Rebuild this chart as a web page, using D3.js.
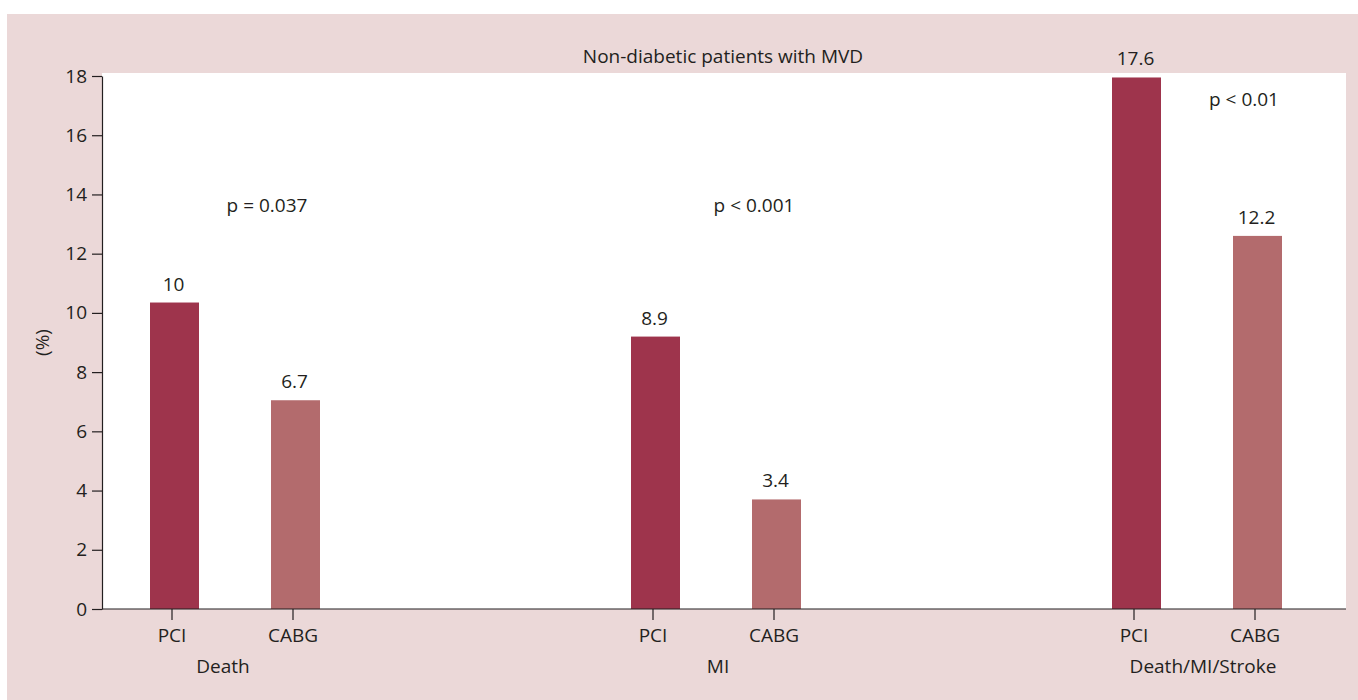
<!DOCTYPE html>
<html>
<head>
<meta charset="utf-8">
<script src="https://cdn.jsdelivr.net/npm/d3@7"></script>
<style>
  body { margin: 0; background: #fff; }
  text { font-family: "Open Sans", "Noto Sans", sans-serif; fill: #231f20; }
</style>
</head>
<body>
<div id="chart"></div>
<script>
// dados
var grupos = ["Death", "MI", "Death/MI/Stroke"];
var tratamentos = ["PCI", "CABG"];
var alturaPCI = [10.35, 9.2, 17.95];   // altura desenhada das barras
var alturaCABG = [7.05, 3.7, 12.6];
var rotuloPCI = ["10", "8.9", "17.6"];  // numeros escritos em cima
var rotuloCABG = ["6.7", "3.4", "12.2"];
var pValores = ["p = 0.037", "p < 0.001", "p < 0.01"];
var yTicks = [0, 2, 4, 6, 8, 10, 12, 14, 16, 18];

var W = 1358, H = 700;
var margin = {top: 76, left: 102, right: 12, bottom: 91};
var w = W - margin.left - margin.right,
    h = H - margin.top - margin.bottom;
var fs = 19;

var svg = d3.select("#chart").append("svg")
    .attr("width", W).attr("height", H);

// fundo rosa + area branca
svg.append("rect").attr("x", 7).attr("y", 14)
    .attr("width", W - 7).attr("height", H - 14).attr("fill", "#ebd8d8");
svg.append("rect").attr("x", margin.left).attr("y", margin.top - 3)
    .attr("width", w).attr("height", h + 3).attr("fill", "#fff");

var g = svg.append("g")
    .attr("transform", "translate(" + margin.left + "," + margin.top + ")");

/*
 * As escalas
 */
var xGrupo = d3.scalePoint().domain(grupos).range([133, w - 149]);
var xTrat = d3.scalePoint().domain(tratamentos).range([-60.5, 60.5]);
var y = d3.scaleLinear().domain([0, 18]).range([h, 0]);
var cor = {PCI: "#9e344c", CABG: "#b36b6d"};
var barW = 49;

var dados = [];
grupos.forEach(function (gr, i) {
    dados.push({grupo: gr, trat: "PCI", value: alturaPCI[i], rotulo: rotuloPCI[i]});
    dados.push({grupo: gr, trat: "CABG", value: alturaCABG[i], rotulo: rotuloCABG[i]});
});

/*
 * As marcas
 */
g.selectAll("rect.bar").data(dados).enter().append("rect")
    .attr("class", "bar")
    .attr("x", d => xGrupo(d.grupo) + xTrat(d.trat) - barW / 2)
    .attr("width", barW)
    .attr("y", d => y(d.value))
    .attr("height", d => h - y(d.value))
    .attr("fill", d => cor[d.trat]);

g.selectAll("text.val").data(dados).enter().append("text")
    .attr("class", "val")
    .attr("x", d => xGrupo(d.grupo) + xTrat(d.trat) - 1)
    .attr("y", d => y(d.value) - 12)
    .attr("text-anchor", "middle")
    .attr("font-size", fs)
    .text(d => d.rotulo);

/*
 * Os eixos
 */
var yAxis = g.append("g")
    .call(d3.axisLeft(y).tickValues(yTicks).tickSize(10).tickSizeOuter(0).tickPadding(5));
yAxis.selectAll("text").attr("font-size", fs).style("font-family", null);
yAxis.selectAll("line, path").attr("stroke", "#231f20").attr("stroke-width", 1.2);

// eixo de baixo com ticks em cada barra
var eixoX = g.append("g").attr("transform", "translate(0," + h + ")");
eixoX.append("line").attr("x1", 0).attr("x2", w)
    .attr("stroke", "#231f20").attr("stroke-width", 1.2);
eixoX.selectAll("line.tick").data(dados).enter().append("line")
    .attr("class", "tick")
    .attr("x1", d => xGrupo(d.grupo) + xTrat(d.trat) - 2.5)
    .attr("x2", d => xGrupo(d.grupo) + xTrat(d.trat) - 2.5)
    .attr("y1", 0).attr("y2", 11)
    .attr("stroke", "#231f20").attr("stroke-width", 1.2);
eixoX.selectAll("text.trat").data(dados).enter().append("text")
    .attr("class", "trat")
    .attr("x", d => xGrupo(d.grupo) + xTrat(d.trat) - 2.5)
    .attr("y", 33)
    .attr("text-anchor", "middle")
    .attr("font-size", fs)
    .text(d => d.trat);
var desvioGrupo = [-12, 2, 6];
eixoX.selectAll("text.grupo").data(grupos).enter().append("text")
    .attr("class", "grupo")
    .attr("x", (d, i) => xGrupo(d) + desvioGrupo[i])
    .attr("y", 64)
    .attr("text-anchor", "middle")
    .attr("font-size", fs)
    .text(d => d);

// rotulo do eixo y
g.append("text")
    .attr("transform", "translate(-53," + h / 2 + ") rotate(-90)")
    .attr("text-anchor", "middle")
    .attr("font-size", fs)
    .text("(%)");

// titulo
g.append("text")
    .attr("x", xGrupo("MI") + 7)
    .attr("y", -13)
    .attr("text-anchor", "middle")
    .attr("font-size", fs)
    .text("Non-diabetic patients with MVD");

// p valores
var pAncora = [{dx: 32, v: 13.4}, {dx: 38, v: 13.4}, {dx: 47, v: 16.98}];
g.selectAll("text.p").data(pValores).enter().append("text")
    .attr("class", "p")
    .attr("x", (d, i) => xGrupo(grupos[i]) + pAncora[i].dx)
    .attr("y", (d, i) => y(pAncora[i].v))
    .attr("text-anchor", "middle")
    .attr("font-size", fs)
    .text(d => d);
</script>
</body>
</html>
